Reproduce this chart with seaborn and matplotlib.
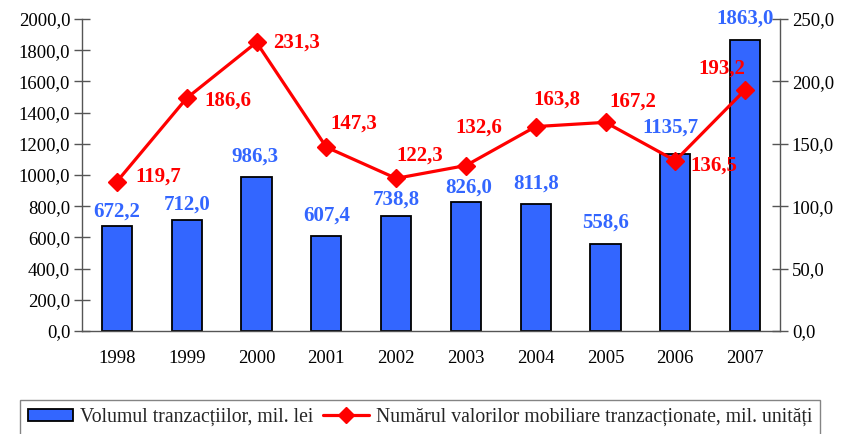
import matplotlib
matplotlib.use("Agg")
import matplotlib.pyplot as plt
import seaborn as sns
import numpy as np
import pandas as pd
from matplotlib.ticker import FixedLocator, FuncFormatter
from matplotlib.patches import Patch
from matplotlib.lines import Line2D

years = ["1998", "1999", "2000", "2001", "2002", "2003", "2004", "2005", "2006", "2007"]
volume = [672.2, 712.0, 986.3, 607.4, 738.8, 826.0, 811.8, 558.6, 1135.7, 1863.0]
number = [119.7, 186.6, 231.3, 147.3, 122.3, 132.6, 163.8, 167.2, 136.5, 193.2]
legend_labels = ["Volumul tranzacțiilor, mil. lei",
                 "Numărul valorilor mobiliare tranzacționate, mil. unități"]

# label offsets in pixels (styling only)
vol_off = [(0, 15), (0, 15), (-2, 21), (0, 21), (0, 16), (3, 15), (0, 21), (0, 21), (-5, 26), (0, 22)]
num_off = [(41, 5), (41, -2), (40, 0), (28, 24), (24, 23), (13, 38), (21, 27), (27, 21), (39, -5), (-23, 21)]

sns.set_style("white")
plt.rcParams['font.family'] = ['Liberation Serif', 'DejaVu Serif']

BLUE = "#3366FF"
RED = "#FF0000"
W, H = 851, 434
fig = plt.figure(figsize=(W / 100, H / 100), dpi=100)
ax = fig.add_axes([82 / W, 1 - 331 / H, (780 - 82) / W, (331 - 19) / H])

df = pd.DataFrame({"year": years, "volume": volume, "number": number})
sns.barplot(data=df, x="year", y="volume", ax=ax, color=BLUE, saturation=1,
            width=0.43, edgecolor="black", linewidth=1.3, errorbar=None)
ax.set_xlim(-0.5, 9.5)
ax.set_ylim(0, 2000)
ax.set_xlabel("")
ax.set_ylabel("")

ax2 = ax.twinx()
ax2.plot(range(len(years)), number, color=RED, lw=2.3, marker="D", markersize=9,
         markeredgecolor=RED, markerfacecolor=RED, zorder=5)
ax2.set_ylim(0, 250)
ax2.set_xlim(-0.5, 9.5)

fmt = FuncFormatter(lambda v, p: f"{v:.1f}".replace(".", ","))
ax.yaxis.set_major_locator(FixedLocator(np.arange(0, 2001, 200)))
ax.yaxis.set_major_formatter(fmt)
ax2.yaxis.set_major_locator(FixedLocator(np.arange(0, 251, 50)))
ax2.yaxis.set_major_formatter(fmt)

for a in (ax, ax2):
    a.spines["top"].set_visible(False)
    for s in ("left", "right", "bottom"):
        a.spines[s].set_color("#555555")
        a.spines[s].set_linewidth(1.0)
ax.spines["right"].set_visible(False)
ax2.spines["left"].set_visible(False)
ax2.spines["bottom"].set_visible(False)
ax2.spines["right"].set_visible(True)

ax.tick_params(axis="y", direction="inout", length=11, width=1, color="#555555",
               labelsize=13.5, pad=3, labelcolor="black")
ax2.tick_params(axis="y", direction="inout", length=11, width=1, color="#555555",
                labelsize=13.5, pad=3, labelcolor="black")
ax.tick_params(axis="x", which="major", length=0, labelsize=13.5, pad=14, labelcolor="black")
ax.xaxis.set_minor_locator(FixedLocator(np.arange(-0.5, 10, 1.0)))
ax.tick_params(axis="x", which="minor", direction="out", length=7, width=1, color="#555555")

for i, (v, off) in enumerate(zip(volume, vol_off)):
    ax.annotate(f"{v:.1f}".replace(".", ","), xy=(i, v), xytext=off,
                textcoords="offset pixels", ha="center", va="center",
                color=BLUE, fontsize=15, fontweight="bold", zorder=6)
for i, (v, off) in enumerate(zip(number, num_off)):
    ax2.annotate(f"{v:.1f}".replace(".", ","), xy=(i, v), xytext=off,
                 textcoords="offset pixels", ha="center", va="center",
                 color=RED, fontsize=15, fontweight="bold", zorder=7)

handles = [Patch(facecolor=BLUE, edgecolor="black", linewidth=1.3),
           Line2D([0], [0], color=RED, lw=2.3, marker="D", markersize=8,
                  markerfacecolor=RED, markeredgecolor=RED)]
leg = fig.legend(handles, legend_labels, loc="upper left", ncol=2,
                 bbox_to_anchor=(20 / W, 1 - 400 / H), bbox_transform=fig.transFigure,
                 borderaxespad=0, fontsize=14.2, frameon=True, fancybox=False,
                 edgecolor="#666666", handlelength=2.3, handleheight=0.55,
                 handletextpad=0.35, columnspacing=0.5, borderpad=0.4)
leg.get_frame().set_linewidth(1.0)

fig.savefig("out.png", dpi=100)
